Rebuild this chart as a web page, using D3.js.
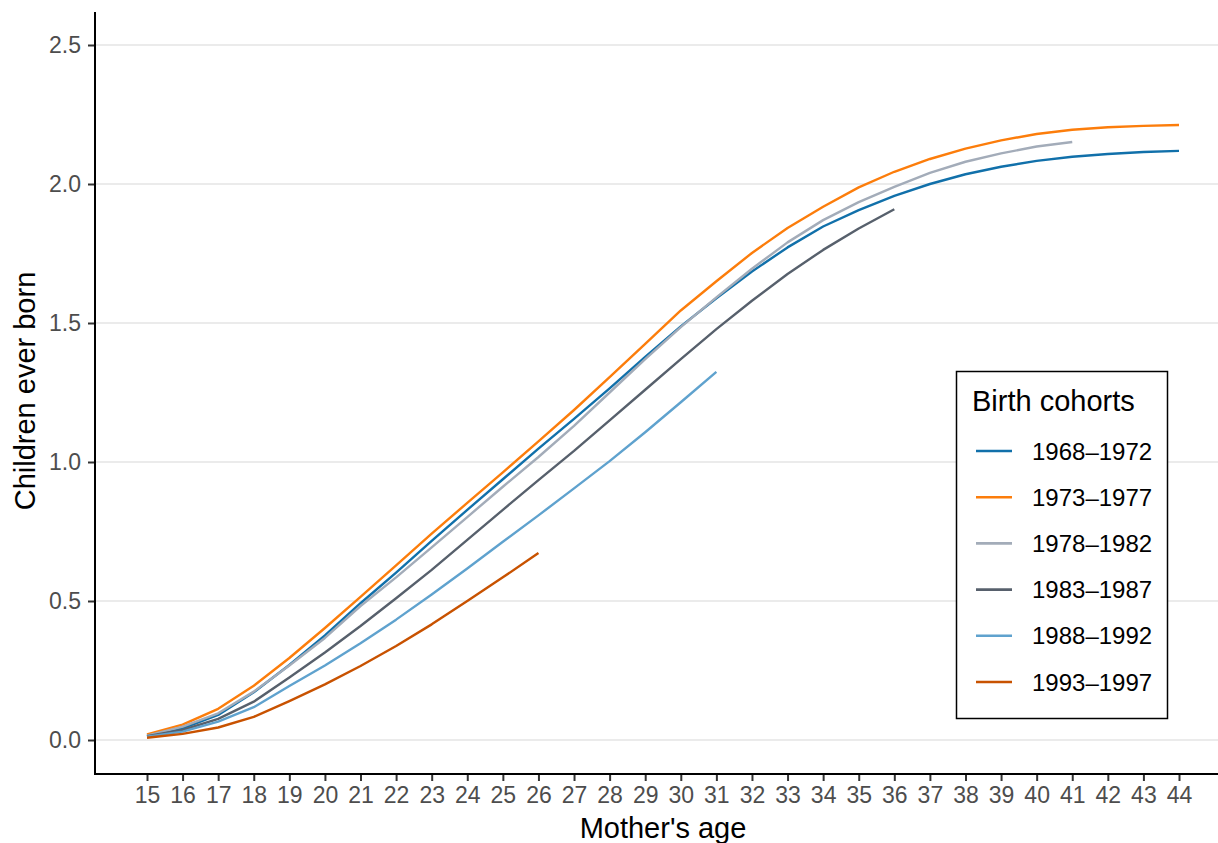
<!DOCTYPE html>
<html>
<head>
<meta charset="utf-8">
<script src="https://cdn.jsdelivr.net/npm/d3@7"></script>
<style>
  html, body { margin: 0; padding: 0; background: #fff; }
  svg { display: block; }
  text { font-family: "Liberation Sans", Arial, Helvetica, sans-serif; }
</style>
</head>
<body>
<svg id="chart" width="1218" height="843"></svg>
<script>
// ---- data ----
const ages = [15,16,17,18,19,20,21,22,23,24,25,26,27,28,29,30,31,32,33,34,35,36,37,38,39,40,41,42,43,44];
const yTicks = [0, 0.5, 1.0, 1.5, 2.0, 2.5];
const cohorts = ["1968\u20131972","1973\u20131977","1978\u20131982","1983\u20131987","1988\u20131992","1993\u20131997"];
const colors = ["#1170aa","#fc7d0b","#a3acb9","#57606c","#5fa2ce","#c85200"];

const c1968 = [0.015,0.042,0.09,0.172,0.27,0.376,0.492,0.602,0.716,0.828,0.938,1.048,1.155,1.265,1.378,1.488,1.589,1.685,1.772,1.847,1.906,1.957,2.0,2.035,2.062,2.083,2.098,2.108,2.115,2.119];
const c1973 = [0.02,0.055,0.112,0.195,0.295,0.403,0.515,0.628,0.742,0.853,0.963,1.074,1.187,1.305,1.425,1.545,1.65,1.752,1.842,1.918,1.988,2.044,2.09,2.127,2.157,2.18,2.195,2.204,2.209,2.212];
const c1978 = [0.016,0.048,0.096,0.174,0.268,0.367,0.482,0.585,0.693,0.802,0.911,1.018,1.13,1.25,1.37,1.485,1.592,1.695,1.79,1.87,1.935,1.99,2.04,2.08,2.11,2.135,2.151];
const c1983 = [0.014,0.036,0.076,0.138,0.225,0.315,0.41,0.51,0.612,0.72,0.828,0.935,1.04,1.15,1.26,1.37,1.478,1.58,1.676,1.763,1.84,1.909];
const c1988 = [0.012,0.03,0.066,0.118,0.194,0.268,0.348,0.433,0.523,0.617,0.713,0.808,0.905,1.003,1.107,1.215,1.324];
const c1993 = [0.008,0.022,0.045,0.083,0.14,0.2,0.266,0.338,0.416,0.5,0.585,0.673];
const seriesValues = [c1968, c1973, c1978, c1983, c1988, c1993];

// ---- layout ----
const svg = d3.select("#chart");
const panel = {left: 95, right: 1218, top: 12, bottom: 774};
const x = d3.scaleLinear().domain([15, 44]).range([147, 1179]);
const y = d3.scaleLinear().domain([0, 2.5]).range([740, 45]);

// gridlines
svg.append("g").selectAll("line").data(yTicks).join("line")
  .attr("x1", panel.left).attr("x2", panel.right)
  .attr("y1", d => y(d)).attr("y2", d => y(d))
  .attr("stroke", "#ebebeb").attr("stroke-width", 2);

// lines
const line = d3.line().x((d, i) => x(ages[i])).y(d => y(d));
svg.append("g").selectAll("path").data(seriesValues).join("path")
  .attr("d", d => line(d))
  .attr("fill", "none")
  .attr("stroke", (d, i) => colors[i])
  .attr("stroke-width", 2.4)
  .attr("stroke-linejoin", "round");

// x axis
const xAxis = svg.append("g").attr("transform", `translate(0,${panel.bottom})`)
  .call(d3.axisBottom(x).tickValues(ages).tickFormat(d3.format("d")).tickSize(7).tickPadding(6));
xAxis.select(".domain").remove();
xAxis.append("line").attr("x1", panel.left - 1).attr("x2", panel.right).attr("y1", 0).attr("y2", 0)
  .attr("stroke", "#000").attr("stroke-width", 2);
xAxis.selectAll(".tick line").attr("stroke", "#333").attr("stroke-width", 2);
xAxis.selectAll(".tick text").attr("fill", "#4d4d4d").style("font-size", "23px")
  .style("font-family", "'Liberation Sans', Arial, sans-serif");

// y axis
const yAxis = svg.append("g").attr("transform", `translate(${panel.left},0)`)
  .call(d3.axisLeft(y).tickValues(yTicks).tickFormat(d3.format(".1f")).tickSize(7).tickPadding(7));
yAxis.select(".domain").remove();
yAxis.append("line").attr("x1", 0).attr("x2", 0).attr("y1", panel.top).attr("y2", panel.bottom + 1)
  .attr("stroke", "#000").attr("stroke-width", 2);
yAxis.selectAll(".tick line").attr("stroke", "#333").attr("stroke-width", 2);
yAxis.selectAll(".tick text").attr("fill", "#4d4d4d").style("font-size", "23px")
  .style("font-family", "'Liberation Sans', Arial, sans-serif");

// axis titles
svg.append("text").attr("x", 663).attr("y", 838).attr("text-anchor", "middle")
  .style("font-size", "29px").attr("fill", "#000").text("Mother's age");
svg.append("text").attr("transform", "translate(35,391) rotate(-90)").attr("text-anchor", "middle")
  .style("font-size", "29px").attr("fill", "#000").text("Children ever born");

// legend
const lg = svg.append("g");
lg.append("rect").attr("x", 956.5).attr("y", 371.5).attr("width", 211).attr("height", 347)
  .attr("fill", "#fff").attr("stroke", "#000").attr("stroke-width", 1.5);
lg.append("text").attr("x", 972).attr("y", 411).style("font-size", "29px").attr("fill", "#000")
  .text("Birth cohorts");
const items = lg.selectAll("g.item").data(cohorts).join("g").attr("class", "item")
  .attr("transform", (d, i) => `translate(0,${451 + i * 46.2})`);
items.append("line").attr("x1", 976).attr("x2", 1012).attr("y1", 0).attr("y2", 0)
  .attr("stroke", (d, i) => colors[i]).attr("stroke-width", 2.6);
items.append("text").attr("x", 1032).attr("y", 0).attr("dy", "0.36em")
  .style("font-size", "24px").attr("fill", "#000").text(d => d);
</script>
</body>
</html>
